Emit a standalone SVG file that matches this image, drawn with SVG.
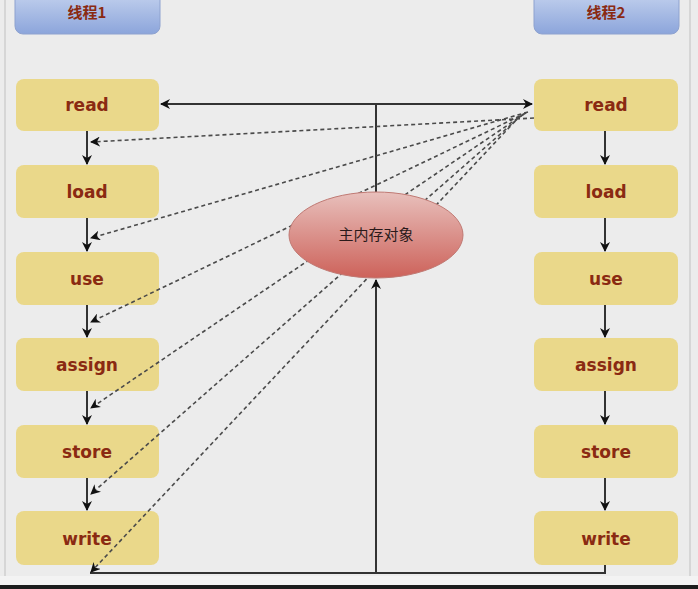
<svg xmlns="http://www.w3.org/2000/svg" width="698" height="589" viewBox="0 0 698 589">
  <defs>
    <linearGradient id="gBlue" x1="0" y1="0" x2="0" y2="1">
      <stop offset="0" stop-color="#c6d4ef"/>
      <stop offset="1" stop-color="#8ca5db"/>
    </linearGradient>
    <linearGradient id="gRed" x1="0" y1="0" x2="0" y2="1">
      <stop offset="0" stop-color="#e8c0bc"/>
      <stop offset="1" stop-color="#cd625a"/>
    </linearGradient>
    <marker id="aSolid" viewBox="0 0 10 10" refX="9" refY="5" markerWidth="10" markerHeight="10" markerUnits="userSpaceOnUse" orient="auto">
      <path d="M0,0 L10,5 L0,10 L3,5 Z" fill="#111"/>
    </marker>
    <marker id="aDash" viewBox="0 0 10 10" refX="9" refY="5" markerWidth="10" markerHeight="10" markerUnits="userSpaceOnUse" orient="auto">
      <path d="M0,0 L10,5 L0,10 L3,5 Z" fill="#111"/>
    </marker>
    <style>
      .box { fill: #ead88a; }
      .head { fill: url(#gBlue); stroke: #8ea2cf; stroke-width: 1; }
      .lbl { font-family: "DejaVu Sans", "Liberation Sans", sans-serif; font-weight: bold; font-size: 17px; fill: #8a2a12; text-anchor: middle; }
      .hlbl { font-family: "Noto Sans CJK SC", "DejaVu Sans", sans-serif; font-weight: bold; font-size: 15px; fill: #8a2a12; text-anchor: middle; }
      .solid { stroke: #333; stroke-width: 2; fill: none; }
      .dash { stroke: #4a4a4a; stroke-width: 1.6; stroke-dasharray: 4 3; fill: none; }
    </style>
  </defs>

  <rect x="0" y="0" width="698" height="589" fill="#ececec"/>
  <rect x="0" y="576" width="698" height="9" fill="#f3f3f3"/>
  <rect x="0" y="585" width="698" height="4" fill="#1c1c1c"/>
  <line x1="5" y1="0" x2="5" y2="576" stroke="#cfcfcf" stroke-width="1.5"/>
  <line x1="690" y1="0" x2="690" y2="576" stroke="#cfcfcf" stroke-width="1.5"/>

  <g id="thread1">
    <rect class="head" x="15" y="-10" width="145" height="44" rx="8"/>
    <text class="hlbl" x="87" y="18">线程1</text>
  </g>
  <g id="thread2">
    <rect class="head" x="534" y="-10" width="145" height="44" rx="8"/>
    <text class="hlbl" x="606" y="18">线程2</text>
  </g>

  <g id="t1-read"><rect class="box" x="16" y="79" width="143" height="52" rx="8"/><text class="lbl" x="87" y="111">read</text></g>
  <g id="t1-load"><rect class="box" x="16" y="165" width="143" height="53" rx="8"/><text class="lbl" x="87" y="198">load</text></g>
  <g id="t1-use"><rect class="box" x="16" y="252" width="143" height="53" rx="8"/><text class="lbl" x="87" y="285">use</text></g>
  <g id="t1-assign"><rect class="box" x="16" y="338" width="143" height="53" rx="8"/><text class="lbl" x="87" y="371">assign</text></g>
  <g id="t1-store"><rect class="box" x="16" y="425" width="143" height="53" rx="8"/><text class="lbl" x="87" y="458">store</text></g>
  <g id="t1-write"><rect class="box" x="16" y="511" width="143" height="54" rx="8"/><text class="lbl" x="87" y="545">write</text></g>

  <g id="t2-read"><rect class="box" x="534" y="79" width="144" height="52" rx="8"/><text class="lbl" x="606" y="111">read</text></g>
  <g id="t2-load"><rect class="box" x="534" y="165" width="144" height="53" rx="8"/><text class="lbl" x="606" y="198">load</text></g>
  <g id="t2-use"><rect class="box" x="534" y="252" width="144" height="53" rx="8"/><text class="lbl" x="606" y="285">use</text></g>
  <g id="t2-assign"><rect class="box" x="534" y="338" width="144" height="53" rx="8"/><text class="lbl" x="606" y="371">assign</text></g>
  <g id="t2-store"><rect class="box" x="534" y="425" width="144" height="53" rx="8"/><text class="lbl" x="606" y="458">store</text></g>
  <g id="t2-write"><rect class="box" x="534" y="511" width="144" height="54" rx="8"/><text class="lbl" x="606" y="545">write</text></g>

  <g id="connectors">
    <line class="solid" x1="87" y1="131" x2="87" y2="164" marker-end="url(#aSolid)"/>
    <line class="solid" x1="87" y1="218" x2="87" y2="251" marker-end="url(#aSolid)"/>
    <line class="solid" x1="87" y1="305" x2="87" y2="337" marker-end="url(#aSolid)"/>
    <line class="solid" x1="87" y1="391" x2="87" y2="424" marker-end="url(#aSolid)"/>
    <line class="solid" x1="87" y1="478" x2="87" y2="510" marker-end="url(#aSolid)"/>
    <line class="solid" x1="605" y1="131" x2="605" y2="164" marker-end="url(#aSolid)"/>
    <line class="solid" x1="605" y1="218" x2="605" y2="251" marker-end="url(#aSolid)"/>
    <line class="solid" x1="605" y1="305" x2="605" y2="337" marker-end="url(#aSolid)"/>
    <line class="solid" x1="605" y1="391" x2="605" y2="424" marker-end="url(#aSolid)"/>
    <line class="solid" x1="605" y1="478" x2="605" y2="510" marker-end="url(#aSolid)"/>
    <line class="solid" x1="376" y1="104" x2="161" y2="104" marker-end="url(#aSolid)"/>
    <line class="solid" x1="376" y1="104" x2="532" y2="104" marker-end="url(#aSolid)"/>
    <line class="solid" x1="376" y1="104" x2="376" y2="193"/>
    <polyline class="solid" points="605,565 605,573 90,573"/>
    <line class="solid" x1="376" y1="573" x2="376" y2="280" marker-end="url(#aSolid)"/>
    <line class="dash" x1="534" y1="118" x2="91" y2="142" marker-end="url(#aDash)"/>
    <line class="dash" x1="528" y1="112" x2="91" y2="238" marker-end="url(#aDash)"/>
    <line class="dash" x1="526" y1="113" x2="91" y2="322" marker-end="url(#aDash)"/>
    <line class="dash" x1="524" y1="114" x2="91" y2="408" marker-end="url(#aDash)"/>
    <line class="dash" x1="522" y1="115" x2="91" y2="494" marker-end="url(#aDash)"/>
    <line class="dash" x1="520" y1="116" x2="91" y2="572" marker-end="url(#aDash)"/>
  </g>

  <g id="main-memory">
    <ellipse cx="376" cy="235" rx="87" ry="43" fill="url(#gRed)" stroke="#c07a74" stroke-width="1"/>
    <text x="376" y="240" font-family="Noto Sans CJK SC, DejaVu Sans, sans-serif" font-size="15" fill="#2a1a1a" text-anchor="middle">主内存对象</text>
  </g>
</svg>
